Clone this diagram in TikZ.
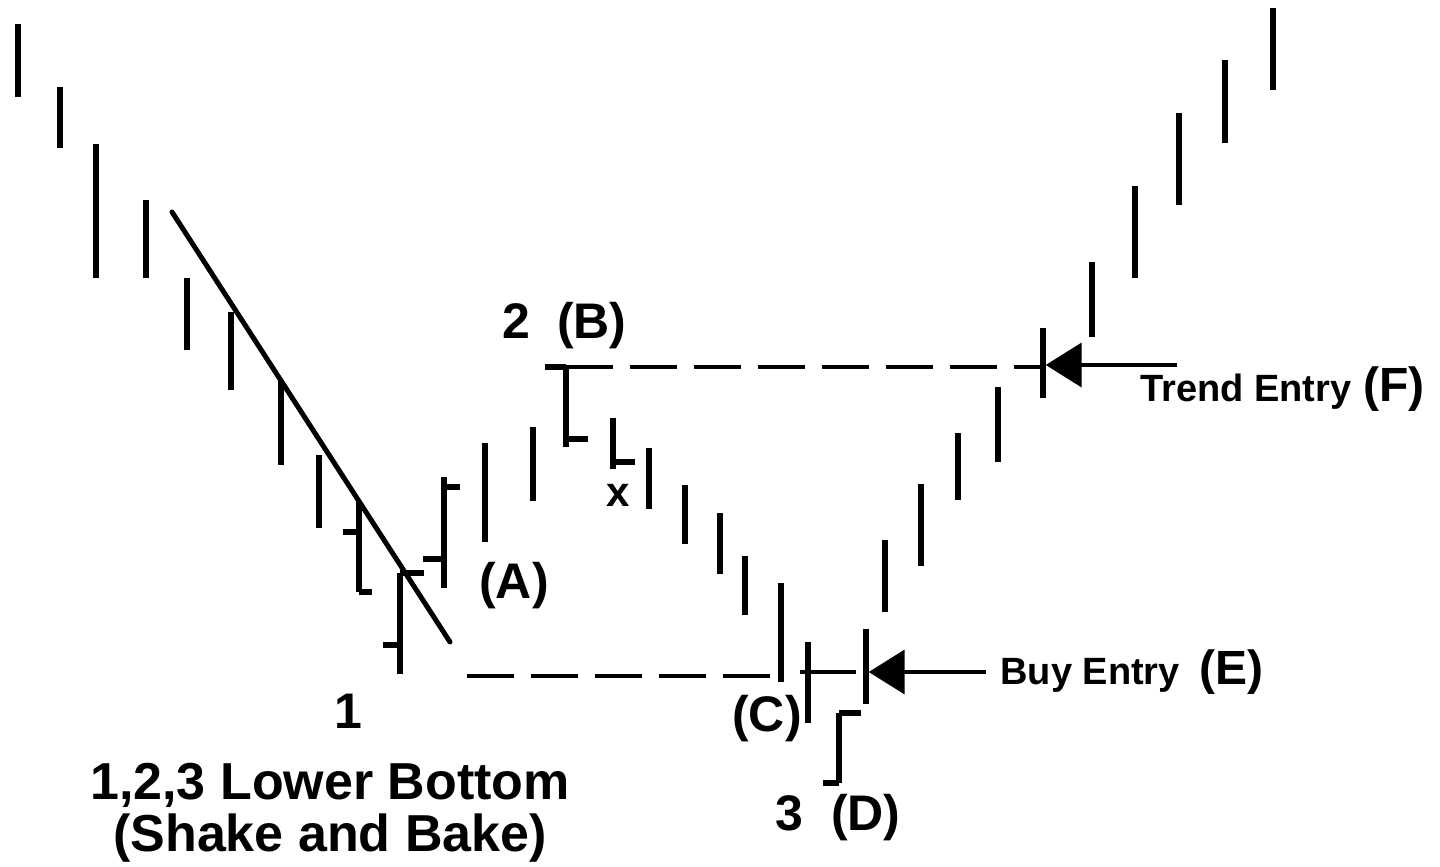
\documentclass[tikz,border=0pt]{standalone}
\usepackage{fontspec}
\setmainfont{Liberation Sans}
\usetikzlibrary{arrows.meta}
\tikzset{
  barline/.style={line width=2.75pt, line cap=butt},
  thinline/.style={line width=1.6pt},
  trendline/.style={line width=2.5pt, line cap=round},
  dashline/.style={line width=1.75pt, dash pattern=on 23.5pt off 8.5pt},
  entryarrow/.style={line width=2pt, -{Triangle[length=18pt,width=22pt]}},
  lbl/.style={inner sep=0pt, font=\bfseries\fontsize{25}{30}\selectfont},
  xlbl/.style={inner sep=0pt, font=\bfseries\fontsize{21}{25}\selectfont},
  entrytxt/.style={inner sep=0pt, font=\bfseries\fontsize{19}{23}\selectfont},
  titletxt/.style={inner sep=0pt, font=\bfseries\fontsize{26}{31}\selectfont},
}
\newcommand{\pricebar}[4]{%
  \coordinate (#1t) at (#2,#3);
  \coordinate (#1b) at (#2,#4);
  \draw[barline] (#1t) -- (#1b);}
\begin{document}
\begin{tikzpicture}[x=0.5pt,y=-0.5pt]
\useasboundingbox[fill=white] (0,0) rectangle (1440,867);
% down trend bars
\pricebar{b1}{18}{24}{97}
\pricebar{b2}{60}{87}{148}
\pricebar{b3}{96}{144}{278}
\pricebar{b4}{146}{200}{278}
\pricebar{b5}{187}{278}{350}
\pricebar{b6}{231}{312}{390}
\pricebar{b7}{281}{380}{465}
\pricebar{b8}{319}{455}{528}
\pricebar{b9}{359}{502}{592}
\draw[barline] (343,532) -- (359,532);
\draw[barline] (b9b) -- (372,592);
\pricebar{b10}{400}{573}{674}
\draw[barline] (b10t) -- (424,573);
\draw[barline] (383,645) -- (400,645);
\pricebar{b11}{444}{477}{588}
\draw[barline] (444,487) -- (460,487);
\draw[barline] (423,559) -- (444,559);
\pricebar{b12}{485}{443}{542}
\pricebar{b13}{533}{427}{501}
\pricebar{b14}{566}{367}{447}
\draw[barline] (545,367) -- (b14t);
\draw[barline] (566,439) -- (588,439);
\pricebar{b15}{613}{418}{469}
\draw[barline] (613,462) -- (635,462);
\pricebar{b16}{649}{448}{509}
\pricebar{b17}{685}{485}{544}
\pricebar{b18}{720}{513}{574}
\pricebar{b19}{745}{556}{615}
\pricebar{b20}{781}{583}{682}
\pricebar{b21}{808}{642}{723}
\draw[thinline] (800,672) -- (856,672);
\pricebar{b22}{866}{629}{704}
\pricebar{b23}{839}{713}{783}
\draw[barline] (b23t) -- (861,713);
\draw[barline] (823,783) -- (b23b);
% up trend bars
\pricebar{b24}{885}{540}{612}
\pricebar{b25}{921}{484}{566}
\pricebar{b26}{958}{433}{500}
\pricebar{b27}{998}{387}{462}
\pricebar{b28}{1043}{328}{398}
\pricebar{b29}{1092}{262}{337}
\pricebar{b30}{1135}{186}{278}
\pricebar{b31}{1179}{113}{205}
\pricebar{b32}{1225}{60}{143}
\pricebar{b33}{1273}{8}{90}
% trend line
\coordinate (tlA) at (172,212);
\coordinate (tlB) at (450,642);
\draw[trendline] (tlA) -- (tlB);
% dashed levels
\coordinate (lowstart) at (467,676);
\draw[dashline] (lowstart) -- (b20t|-lowstart);
\draw[dashline] (b14t) -- (b28t|-b14t);
% entry arrows
\coordinate (buyfrom) at (986,672);
\coordinate (buytip) at (868.7,672);
\draw[entryarrow] (buyfrom) -- (buytip);
\coordinate (trendfrom) at (1177,365);
\coordinate (trendtip) at (1045.7,365);
\draw[entryarrow] (trendfrom) -- (trendtip);
% labels
\node[lbl, anchor=base] (one) at (348,728) {1};
\node[lbl, anchor=base west] (twoB) at (502,338) {2\hspace{13.5pt}(B)};
\node[lbl, anchor=base] (labA) at (514,598) {(A)};
\node[lbl, anchor=base] (labC) at (767,731) {(C)};
\node[lbl, anchor=base west] (threeD) at (775,830) {3\hspace{14pt}(D)};
\node[xlbl, anchor=base] (labx) at (618,506) {x};
\node[entrytxt, anchor=base west] (buy) at (1000,684) {Buy Entry\hspace{10pt}{\fontsize{24}{29}\selectfont (E)}};
\node[entrytxt, anchor=base west] (trend) at (1140,401) {Trend Entry\hspace{6pt}{\fontsize{24}{29}\selectfont (F)}};
\node[titletxt, anchor=base] (title1) at (330,799) {1,2,3 Lower Bottom};
\node[titletxt, anchor=base] (title2) at (330,851) {(Shake and Bake)};
\end{tikzpicture}
\end{document}
